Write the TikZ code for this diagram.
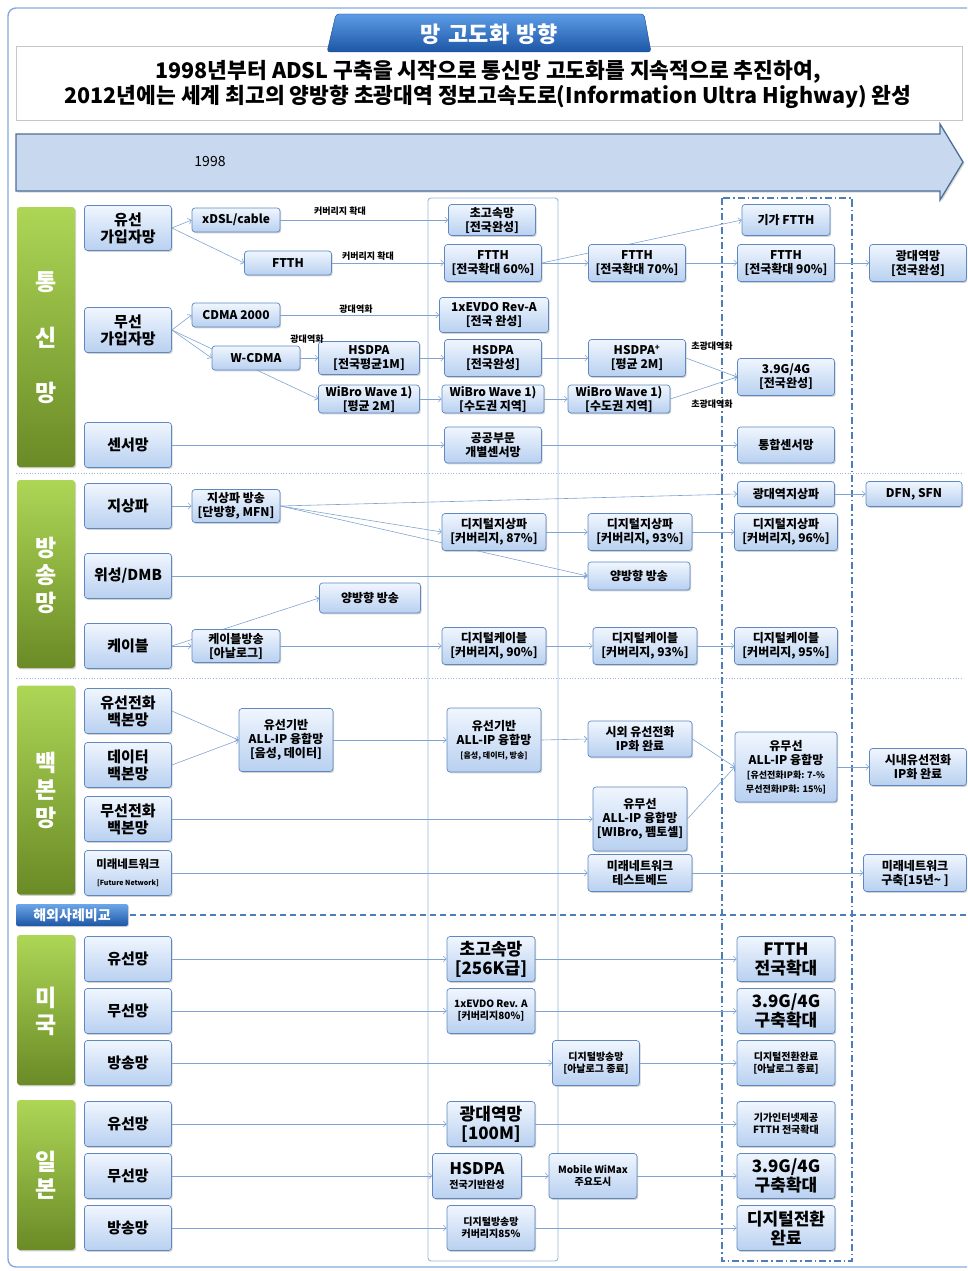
\documentclass[tikz,border=0pt]{standalone}
\usepackage{fontspec}
\setmainfont{Noto Sans CJK KR}
\usetikzlibrary{arrows.meta,shadows}
\definecolor{framec}{HTML}{86AADA}
\definecolor{boxline}{HTML}{5F88C0}
\definecolor{boxtop}{HTML}{F0F6FE}
\definecolor{boxbot}{HTML}{B8D0F0}
\definecolor{linec}{HTML}{7FA4D2}
\definecolor{colc}{HTML}{9CB8DC}
\definecolor{dashc}{HTML}{4E7DB8}
\definecolor{greentop}{HTML}{ADD656}
\definecolor{greenbot}{HTML}{6A8A26}
\definecolor{tabtop}{HTML}{5C9CE6}
\definecolor{tabbot}{HTML}{1C56A6}
\definecolor{arrowfill}{HTML}{C7D8EF}
\definecolor{arrowline}{HTML}{506F98}
\newcommand\fs[2]{\fontsize{#1}{#2}\selectfont}
\newcommand\bx[7][]{\node[nd,minimum width=#5pt,minimum height=#6pt,#1] (#2) at (#3,#4) {#7};}
\pgfdeclarelayer{bg}
\pgfsetlayers{bg,main}
\tikzset{
  nd/.style={draw=boxline, line width=0.7pt, rounded corners=3pt,
    top color=boxtop, bottom color=boxbot, align=center, inner sep=0pt,
    font=\bfseries\fs{12}{14}, text=black,
    drop shadow={shadow xshift=1.2pt, shadow yshift=-1.4pt, fill=black!35}},
  big/.style={font=\bfseries\fs{17}{19}},
  small/.style={font=\bfseries\fs{10}{12}},
  cat/.style={nd, minimum width=87pt, minimum height=45pt, font=\bfseries\fs{15}{17}},
  gbar/.style={rounded corners=3pt, top color=greentop, bottom color=greenbot,
    minimum width=58pt, inner sep=0pt,
    drop shadow={shadow xshift=1.2pt, shadow yshift=-1.4pt, fill=black!35}},
  gch/.style={text=white, font=\bfseries\fs{23}{25}, inner sep=0pt},
  ar/.style={draw=linec, line width=0.6pt, -{Straight Barb[length=3pt,width=6pt]}},
  elab/.style={font=\bfseries\fs{9}{10}, inner sep=0pt},
}
\begin{document}
\begin{tikzpicture}[x=1pt,y=-1pt]
\useasboundingbox (0,0) rectangle (967,1271);
\clip (0,0) rectangle (967,1271);

% header
\draw[framec, line width=1.4pt, rounded corners=8pt] (8,8) rectangle (995,1267);
\filldraw[draw=black!22, fill=white, drop shadow={shadow xshift=1pt, shadow yshift=-1pt, fill=black!20}] (16,46) rectangle (962,120);
\shade[top color=tabtop, bottom color=tabbot, draw=tabbot!80!black, rounded corners=3pt]
  (336,14) -- (644,14) -- (651,52) -- (327,52) -- cycle;
\node[text=white, font=\bfseries\fs{22}{24}] (title) at (489,34) {망\hspace{0.35em}고도화\hspace{0.35em}방향};
\node[font=\bfseries\fs{21.5}{24}] (sub1) at (488,72) {1998년부터 ADSL 구축을 시작으로 통신망 고도화를 지속적으로 추진하여,};
\node[font=\bfseries\fs{21.5}{24}] (sub2) at (488,97) {2012년에는 세계 최고의 양방향 초광대역 정보고속도로(Information Ultra Highway) 완성};

% time arrow
\filldraw[fill=arrowfill, draw=arrowline, line width=1.3pt, line join=miter,
  drop shadow={shadow xshift=1.5pt, shadow yshift=-1.5pt, fill=black!30}]
  (16,134) -- (940,134) -- (940,124) -- (963,162) -- (940,200) -- (940,191) -- (16,191) -- cycle;
\node[font=\fs{14}{16}] (yr) at (210,162) {1998};

\begin{pgfonlayer}{bg}
  % separators
  \draw[colc, line width=0.7pt, dotted] (16,473) -- (962,473);
  \draw[colc, line width=0.7pt, dotted] (16,678) -- (962,678);
  \draw[dashc, line width=1.6pt, dash pattern=on 6pt off 4pt] (130,915) -- (967,915);
  % period columns
  \draw[colc, line width=0.9pt, rounded corners=3pt] (428,198) rectangle (558,1261);
  \draw[dashc, line width=1.3pt, dash pattern=on 7pt off 3pt on 1.5pt off 3pt] (722,198) rectangle (852,1261);
\end{pgfonlayer}

% overseas tab
\node[rounded corners=2pt, top color=tabtop!90!white, bottom color=tabbot, minimum width=112pt, minimum height=22pt,
  inner sep=0pt, text=white, font=\bfseries\fs{14}{16},
  drop shadow={shadow xshift=1pt, shadow yshift=-1pt, fill=black!30}] (ovs) at (72,915) {해외사례비교};

% green category bars
\node[gbar, minimum height=260pt] (gT) at (46,337) {};
\node[gch] (gT1) at (46,282) {통};
\node[gch] (gT2) at (46,338) {신};
\node[gch] (gT3) at (46,393) {망};
\node[gbar, minimum height=188pt] (gB) at (46,574) {};
\node[gch] (gB1) at (46,548) {방};
\node[gch] (gB2) at (46,575) {송};
\node[gch] (gB3) at (46,603) {망};
\node[gbar, minimum height=209pt] (gK) at (46,790) {};
\node[gch] (gK1) at (46,763) {백};
\node[gch] (gK2) at (46,790) {본};
\node[gch] (gK3) at (46,818) {망};
\node[gbar, minimum height=150pt] (gU) at (46,1010) {};
\node[gch] (gU1) at (46,998) {미};
\node[gch] (gU2) at (46,1025) {국};
\node[gbar, minimum height=150pt] (gJ) at (46,1175) {};
\node[gch] (gJ1) at (46,1162) {일};
\node[gch] (gJ2) at (46,1189) {본};

% category boxes
\node[cat] (tA) at (128,228) {유선\\가입자망};
\node[cat] (tB) at (128,330) {무선\\가입자망};
\node[cat] (tC) at (128,445) {센서망};
\node[cat] (bA) at (128,506) {지상파};
\node[cat] (bB) at (128,576) {위성/DMB};
\node[cat] (bC) at (128,646) {케이블};
\node[cat] (kA) at (128,711) {유선전화\\백본망};
\node[cat] (kB) at (128,765) {데이터\\백본망};
\node[cat] (kC) at (128,819) {무선전화\\백본망};
\node[cat] (kD) at (128,873) {{\fs{11.5}{13}미래네트워크}\\{\fs{7}{8}[Future Network]}};
\node[cat] (uA) at (128,959) {유선망};
\node[cat] (uB) at (128,1011) {무선망};
\node[cat] (uC) at (128,1063) {방송망};
\node[cat] (jA) at (128,1124) {유선망};
\node[cat] (jB) at (128,1176) {무선망};
\node[cat] (jC) at (128,1228) {방송망};

% early stage
\bx{xdsl}{236}{220}{88}{24}{xDSL/cable}
\bx{ftthA}{288}{263}{87}{24}{FTTH}
\bx{cdma}{236}{315}{88}{24}{CDMA 2000}
\bx{wcdma}{256}{358}{88}{24}{W-CDMA}
\bx{hs1}{369}{358}{101}{33}{HSDPA\\{}[전국평균1M]}
\bx{wb1}{369}{399}{101}{28}{WiBro Wave 1)\\{}[평균 2M]}
\bx{jsb}{236}{506}{88}{33}{지상파 방송\\{}[단방향, MFN]}
\bx{ybl}{370}{598}{101}{30}{양방향 방송}
\bx{cab}{236}{646}{88}{33}{케이블방송\\{}[아날로그]}
\bx{ipA}{286}{740}{94}{63}{유선기반\\ALL-IP 융합망\\{}[음성, 데이터]}

% first period
\bx{c1a}{492}{220}{87}{31}{초고속망\\{}[전국완성]}
\bx{c1b}{493}{263}{97}{37}{FTTH\\{}[전국확대 60\%]}
\bx{c1c}{494}{315}{109}{35}{1xEVDO Rev-A\\{}[전국 완성]}
\bx{c1d}{493}{358}{97}{37}{HSDPA\\{}[전국완성]}
\bx{c1e}{493}{399}{102}{28}{WiBro Wave 1)\\{}[수도권 지역]}
\bx{c1f}{493}{445}{97}{36}{공공부문\\개별센서망}
\bx{c1g}{494}{532}{104}{37}{디지털지상파\\{}[커버리지, 87\%]}
\bx{c1h}{494}{646}{104}{37}{디지털케이블\\{}[커버리지, 90\%]}
\bx{c1i}{494}{740}{94}{64}{유선기반\\ALL-IP 융합망\\{\fs{8}{10}[음성, 데이터, 방송]}}
\bx[big]{u1a}{491}{959}{88}{45}{초고속망\\{}[256K급]}
\bx[small]{u1b}{491}{1011}{88}{45}{1xEVDO Rev. A\\{}[커버리지80\%]}
\bx[big]{j1a}{491}{1124}{88}{45}{광대역망\\{}[100M]}
\bx{j1b}{477}{1176}{89}{45}{{\fs{16}{17}HSDPA}\\{\fs{10}{12}전국기반완성}}
\bx[small]{j1c}{491}{1228}{88}{45}{디지털방송망\\커버리지85\%}

% second period
\bx{c2b}{637}{263}{97}{37}{FTTH\\{}[전국확대 70\%]}
\bx{c2d}{637}{358}{97}{37}{HSDPA\textsuperscript{+}\\{}[평균 2M]}
\bx{c2e}{619}{399}{102}{28}{WiBro Wave 1)\\{}[수도권 지역]}
\bx{c2g}{640}{532}{104}{37}{디지털지상파\\{}[커버리지, 93\%]}
\bx{c2y}{639}{576}{102}{28}{양방향 방송}
\bx{c2h}{645}{646}{104}{37}{디지털케이블\\{}[커버리지, 93\%]}
\bx{c2i}{640}{739}{104}{36}{시외 유선전화\\IP화 완료}
\bx{c2j}{640}{819}{94}{64}{유무선\\ALL-IP 융합망\\{}[WIBro, 펨토셀]}
\bx{c2k}{640}{873}{104}{37}{미래네트워크\\테스트베드}
\bx[small]{u2c}{596}{1063}{87}{45}{디지털방송망\\{}[아날로그 종료]}
\bx[small]{j2b}{593}{1176}{88}{45}{Mobile WiMax\\주요도시}

% target period
\bx{c3a}{786}{220}{88}{31}{기가 FTTH}
\bx{c3b}{786}{263}{97}{37}{FTTH\\{}[전국확대 90\%]}
\bx{c3d}{786}{377}{97}{37}{3.9G/4G\\{}[전국완성]}
\bx{c3f}{786}{445}{97}{36}{통합센서망}
\bx{c3w}{786}{494}{97}{25}{광대역지상파}
\bx{c3g}{786}{532}{103}{37}{디지털지상파\\{}[커버리지, 96\%]}
\bx{c3h}{786}{646}{103}{37}{디지털케이블\\{}[커버리지, 95\%]}
\bx{c3i}{786}{767}{102}{70}{유무선\\ALL-IP 융합망\\{\fs{9}{11}[유선전화IP화: 7-\%}\\{\fs{9}{11}무선전화IP화: 15\%]}}
\bx[big]{u3a}{786}{959}{98}{45}{FTTH\\전국확대}
\bx[big]{u3b}{786}{1011}{98}{45}{3.9G/4G\\구축확대}
\bx[small]{u3c}{786}{1063}{98}{45}{디지털전환완료\\{}[아날로그 종료]}
\bx[small]{j3a}{786}{1124}{98}{45}{기가인터넷제공\\FTTH 전국확대}
\bx[big]{j3b}{786}{1176}{98}{45}{3.9G/4G\\구축확대}
\bx[big]{j3c}{786}{1228}{98}{45}{디지털전환\\완료}

% beyond
\bx{c4b}{918}{263}{97}{37}{광대역망\\{}[전국완성]}
\bx{c4w}{914}{494}{96}{25}{DFN, SFN}
\bx{c4i}{918}{767}{97}{37}{시내유선전화\\IP화 완료}
\bx{c4k}{915}{873}{103}{37}{미래네트워크\\구축[15년\textasciitilde\ ]}

% edge labels
\node[elab] (l1) at (340,211) {커버리지 확대};
\node[elab] (l2) at (368,256) {커버리지 확대};
\node[elab] (l3) at (356,309) {광대역화};
\node[elab] (l4) at (307,339) {광대역화};
\node[elab] (l5) at (712,346) {초광대역화};
\node[elab] (l6) at (712,404) {초광대역화};

% connectors
\begin{pgfonlayer}{bg}
\draw[ar] (tA.east) -- (xdsl.west);
\draw[ar] (tA.east) -- (ftthA.west);
\draw[ar] (xdsl.east) -- (c1a.west);
\draw[ar] (ftthA.east) -- (c1b.west);
\draw[ar] (c1b.east) -- (c2b.west);
\draw[ar] (c1b.east) -- (c3a.west);
\draw[ar] (c2b.east) -- (c3b.west);
\draw[ar] (c3b.east) -- (c4b.west);
\draw[ar] (tB.east) -- (cdma.west);
\draw[ar] (tB.east) -- (wcdma.west);
\draw[ar] (tB.east) -- (wb1.west);
\draw[ar] (cdma.east) -- (c1c.west);
\draw[ar] (wcdma.east) -- (hs1.west);
\draw[ar] (hs1.east) -- (c1d.west);
\draw[ar] (wb1.east) -- (c1e.west);
\draw[ar] (c1d.east) -- (c2d.west);
\draw[ar] (c1e.east) -- (c2e.west);
\draw[ar] (c2d.east) -- (c3d.west);
\draw[ar] (c2e.east) -- (c3d.west);
\draw[ar] (tC.east) -- (c1f.west);
\draw[ar] (c1f.east) -- (c3f.west);
\draw[ar] (bA.east) -- (jsb.west);
\draw[ar] (jsb.east) -- (c3w.west);
\draw[ar] (jsb.east) -- (c1g.west);
\draw[ar] (jsb.east) -- (c2y.west);
\draw[ar] (c1g.east) -- (c2g.west);
\draw[ar] (c2g.east) -- (c3g.west);
\draw[ar] (c3w.east) -- (c4w.west);
\draw[ar] (bB.east) -- (c2y.west);
\draw[ar] (bC.east) -- (ybl.west);
\draw[ar] (bC.east) -- (cab.west);
\draw[ar] (cab.east) -- (c1h.west);
\draw[ar] (c1h.east) -- (c2h.west);
\draw[ar] (c2h.east) -- (c3h.west);
\draw[ar] (kA.east) -- (ipA.west);
\draw[ar] (kB.east) -- (ipA.west);
\draw[ar] (ipA.east) -- (c1i.west);
\draw[ar] (c1i.east) -- (c2i.west);
\draw[ar] (c2i.east) -- (c3i.west);
\draw[ar] (kC.east) -- (c2j.west);
\draw[ar] (c2j.east) -- (c3i.west);
\draw[ar] (c3i.east) -- (c4i.west);
\draw[ar] (kD.east) -- (c2k.west);
\draw[ar] (c2k.east) -- (c4k.west);
\draw[ar] (uA.east) -- (u1a.west);
\draw[ar] (u1a.east) -- (u3a.west);
\draw[ar] (uB.east) -- (u1b.west);
\draw[ar] (u1b.east) -- (u3b.west);
\draw[ar] (uC.east) -- (u2c.west);
\draw[ar] (u2c.east) -- (u3c.west);
\draw[ar] (jA.east) -- (j1a.west);
\draw[ar] (j1a.east) -- (j3a.west);
\draw[ar] (jB.east) -- (j1b.west);
\draw[ar] (j1b.east) -- (j2b.west);
\draw[ar] (j2b.east) -- (j3b.west);
\draw[ar] (jC.east) -- (j1c.west);
\draw[ar] (j1c.east) -- (j3c.west);
\end{pgfonlayer}
\end{tikzpicture}
\end{document}
